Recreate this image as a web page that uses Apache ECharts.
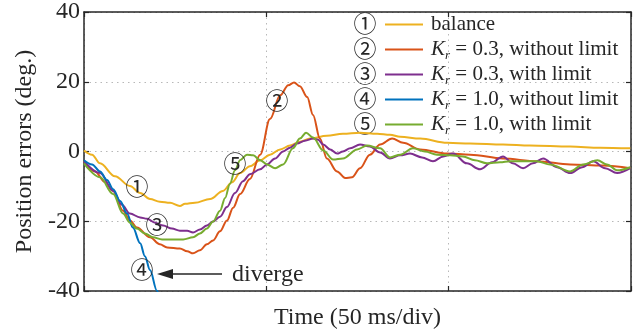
<!DOCTYPE html>
<html>
<head>
<meta charset="utf-8">
<script src="https://cdn.jsdelivr.net/npm/echarts@6/dist/echarts.min.js"></script>
<style>
html,body{margin:0;padding:0;background:#fff;}
#chart{width:638px;height:335px;}
</style>
</head>
<body>
<div id="chart"></div>
<script>
// ---- Data (time in ms, position error in degrees) ----
var seriesNames = ['balance', 'Kr = 0.3, without limit', 'Kr = 0.3, with limit', 'Kr = 1.0, without limit', 'Kr = 1.0, with limit'];
var yTicks = [-40, -20, 0, 20, 40];

var balance = [[0,0.3],[2.2,-0.9],[4.4,-3.4],[8.5,-7.1],[12.6,-9.9],[15.4,-11.9],[18.1,-13.6],[20.8,-14.4],[23.6,-14.7],[26.3,-15.6],[27.7,-15.0],[30.4,-14.7],[34.6,-13.6],[38.1,-11.3],[40.6,-8.8],[42.8,-6.2],[45.5,-4.2],[48.3,-2.5],[51.0,-0.9],[53.8,0.6],[56.5,1.7],[59.2,2.8],[62.0,3.7],[66.6,4.5],[71.0,5.1],[75.7,5.4],[80.4,5.1],[83.9,4.8],[86.7,4.2],[92.2,3.7],[99.6,2.5],[105.9,2.3],[114.9,2.0],[122.3,1.7],[133.3,1.4],[141.5,1.1],[149.8,0.9]];

var kr03NoLimit = [[0,-2.8],[3.0,-5.7],[5.8,-8.8],[8.0,-11.3],[10.7,-17.0],[12.6,-19.8],[14.5,-21.8],[18.1,-24.6],[20.8,-26.6],[22.8,-27.5],[26.3,-27.8],[28.3,-28.6],[29.9,-29.2],[31.8,-28.3],[33.7,-26.6],[35.4,-25.5],[37.3,-22.9],[39.2,-19.8],[40.9,-16.1],[42.8,-12.2],[45.5,-7.9],[48.3,-0.9],[51.0,9.3],[53.8,16.1],[56.0,19.0],[57.6,19.8],[59.2,18.7],[61.2,15.6],[62.8,10.5],[64.7,3.7],[66.6,-2.0],[69.4,-5.7],[71.6,-7.6],[73.5,-7.4],[75.7,-4.8],[78.4,-0.9],[81.2,2.0],[84.5,3.7],[87.5,2.5],[92.2,0.6],[99.6,-0.6],[105.9,-0.9],[114.9,-2.0],[124.2,-2.8],[133.3,-3.7],[142.3,-4.0],[149.8,-4.8]];

var kr03Limit = [[0,-2.8],[4.4,-6.2],[8.0,-11.3],[10.4,-15.3],[12.6,-17.8],[15.4,-18.9],[17.3,-19.3],[19.5,-20.4],[21.7,-21.2],[24.1,-22.1],[26.3,-22.7],[28.3,-22.7],[29.9,-23.2],[31.8,-22.4],[33.7,-21.2],[35.4,-20.1],[37.3,-18.7],[39.2,-15.9],[41.4,-11.9],[43.6,-8.5],[45.5,-6.5],[48.3,-5.1],[50.2,-3.7],[52.4,-2.0],[54.6,0],[56.5,1.1],[58.4,2.3],[60.6,3.1],[62.8,3.7],[64.2,3.4],[65.6,2.0],[67.5,0.6],[69.4,-0.6],[71.0,0],[73.0,0.9],[75.7,2.0],[78.4,1.4],[81.2,-0.3],[83.9,-2.0],[86.7,-1.1],[89.4,-0.6],[92.7,-1.7],[95.7,-2.8],[98.5,-1.4],[101.2,-0.6],[105.0,-3.4],[108.6,-5.1],[111.9,-3.1],[114.9,-1.4],[117.6,-3.4],[120.4,-4.8],[123.1,-3.4],[125.9,-2.0],[129.7,-4.5],[133.3,-6.2],[136.6,-4.5],[139.6,-2.8],[142.9,-4.8],[146.2,-6.2],[149.8,-4.8]];

var kr10NoLimit = [[0,-2.5],[2.2,-3.7],[4.4,-5.7],[6.3,-8.2],[8.0,-10.8],[9.9,-14.2],[11.8,-17.8],[13.4,-21.8],[15.4,-26.3],[16.7,-30.0],[18.1,-34.0],[20.0,-39.9],[20.8,-42.5]];

var kr10Limit = [[0,-3.4],[4.4,-7.4],[8.0,-12.2],[10.7,-17.8],[12.6,-20.4],[14.5,-22.1],[16.7,-23.5],[18.9,-24.6],[21.4,-25.2],[23.6,-25.2],[27.2,-25.2],[29.9,-24.6],[31.8,-23.5],[33.7,-22.1],[35.4,-20.1],[37.3,-17.0],[38.7,-13.3],[40.0,-9.3],[41.4,-5.4],[42.8,-2.5],[44.7,-0.9],[46.4,-1.1],[48.3,-2.5],[50.2,-3.7],[52.4,-4.8],[54.6,-3.7],[57.3,0.9],[59.2,3.7],[60.9,5.4],[62.8,4.0],[65.6,0.3],[68.3,-2.3],[71.0,-2.0],[74.9,0.6],[77.6,1.7],[81.2,0.9],[83.9,-1.7],[86.7,-0.9],[90.2,0.9],[93.5,0],[96.8,-0.9],[100.4,-1.1],[103.9,-1.4],[107.2,-2.5],[110.5,-3.4],[114.1,-3.1],[116.8,-2.8],[120.4,-2.8],[124.2,-2.8],[127.8,-3.7],[133.3,-5.7],[136.9,-3.7],[140.8,-2.5],[143.4,-3.7],[146.2,-5.4],[149.8,-4.5]];

var seriesData = [balance, kr03NoLimit, kr03Limit, kr10NoLimit, kr10Limit];
var colors = ['#EDB120', '#D95319', '#7E2F8E', '#0072BD', '#77AC30'];
var circled = ['①', '②', '③', '④', '⑤'];

var SERIF = 'Liberation Serif';
var CIRC = '"Noto Sans CJK JP", "DejaVu Sans", sans-serif';
var INK = '#262626';

var chart = echarts.init(document.getElementById('chart'), null, {renderer: 'canvas'});

var legendLabels = {};
legendLabels[seriesNames[0]] = '{g|}{t|balance}';
legendLabels[seriesNames[1]] = '{g|}{k|K}{r|r}{t| = 0.3, without limit}';
legendLabels[seriesNames[2]] = '{g|}{k|K}{r|r}{t| = 0.3, with limit}';
legendLabels[seriesNames[3]] = '{g|}{k|K}{r|r}{t| = 1.0, without limit}';
legendLabels[seriesNames[4]] = '{g|}{k|K}{r|r}{t| = 1.0, with limit}';

var series = seriesData.map(function (d, i) {
  return {
    name: seriesNames[i],
    type: 'line',
    data: d,
    symbol: 'none',
    smooth: 0.35,
    smoothMonotone: 'x',
    clip: true,
    lineStyle: {width: 2, color: colors[i]},
    itemStyle: {color: colors[i]},
    z: 2 + i,
    animation: false
  };
});

var graphics = [];
// legend circled numbers
for (var i = 0; i < 5; i++) {
  graphics.push({type: 'text', x: 365, y: 23 + 25 * i, style: {text: circled[i], font: '23px ' + CIRC, fill: INK, textAlign: 'center', textVerticalAlign: 'middle'}});
}
// in-plot annotations
var ann = [[137, 186, 0], [277, 100, 1], [157, 224, 2], [142, 269, 3], [235, 163, 4]];
ann.forEach(function (a) {
  graphics.push({type: 'text', x: a[0], y: a[1], style: {text: circled[a[2]], font: '23px ' + CIRC, fill: INK, textAlign: 'center', textVerticalAlign: 'middle'}, z: 100});
});
// arrow + diverge
graphics.push({type: 'line', shape: {x1: 222, y1: 274, x2: 168, y2: 274}, style: {stroke: INK, lineWidth: 1.5}, z: 100});
graphics.push({type: 'polygon', shape: {points: [[157, 274], [173, 269], [173, 279]]}, style: {fill: INK}, z: 100});
graphics.push({type: 'text', x: 232, y: 275, style: {text: 'diverge', font: '24px "Liberation Serif"', fill: INK, textVerticalAlign: 'middle'}, z: 100});

var option = {
  backgroundColor: '#fff',
  animation: false,
  color: colors,
  grid: {left: 84, right: 7, top: 8.5, bottom: 44, containLabel: false},
  legend: {
    orient: 'vertical',
    left: 380,
    top: 7,
    icon: 'rect',
    itemWidth: 38,
    itemHeight: 2,
    itemGap: 0,
    data: seriesNames,
    formatter: function (n) { return legendLabels[n]; },
    textStyle: {
      fontFamily: SERIF, fontSize: 21, color: INK, lineHeight: 25,
      rich: {
        g: {width: 3, lineHeight: 25},
        t: {fontFamily: SERIF, fontSize: 21, color: INK, lineHeight: 25},
        k: {fontFamily: SERIF, fontSize: 21, fontStyle: 'italic', color: INK, lineHeight: 25},
        r: {fontFamily: SERIF, fontSize: 13, fontStyle: 'italic', color: INK, lineHeight: 14, verticalAlign: 'bottom'}
      }
    }
  },
  xAxis: [{
    type: 'value', min: 0, max: 150, interval: 50,
    name: 'Time (50 ms/div)', nameLocation: 'middle', nameGap: 15,
    nameTextStyle: {fontFamily: SERIF, fontSize: 24, color: INK, fontWeight: 'normal'},
    axisLine: {show: true, onZero: false, lineStyle: {color: INK, width: 1.5}},
    axisTick: {show: true, inside: true, length: 5, lineStyle: {color: INK, width: 1.2}},
    axisLabel: {show: false},
    splitLine: {show: true, lineStyle: {color: '#b8b8b8', type: [1.5, 4], width: 1}}
  }, {
    type: 'value', min: 0, max: 150, interval: 50, position: 'top',
    axisLine: {show: true, onZero: false, lineStyle: {color: INK, width: 1.5}},
    axisTick: {show: true, inside: true, length: 5, lineStyle: {color: INK, width: 1.2}},
    axisLabel: {show: false},
    splitLine: {show: false}
  }],
  yAxis: [{
    type: 'value', min: -40, max: 40, interval: 20,
    name: 'Position errors (deg.)', nameLocation: 'middle', nameGap: 39,
    nameTextStyle: {fontFamily: SERIF, fontSize: 24, color: INK, fontWeight: 'normal'},
    axisLine: {show: true, onZero: false, lineStyle: {color: INK, width: 1.5}},
    axisTick: {show: true, inside: true, length: 5, lineStyle: {color: INK, width: 1.2}},
    axisLabel: {show: true, margin: 4, fontFamily: SERIF, fontSize: 24, color: INK, fontWeight: 'normal',
      formatter: function (v) { return yTicks.indexOf(v) >= 0 ? String(v) : ''; }},
    splitLine: {show: true, lineStyle: {color: '#b8b8b8', type: [1.5, 4], width: 1}}
  }, {
    type: 'value', min: -40, max: 40, interval: 20, position: 'right',
    axisLine: {show: true, onZero: false, lineStyle: {color: INK, width: 1.5}},
    axisTick: {show: true, inside: true, length: 5, lineStyle: {color: INK, width: 1.2}},
    axisLabel: {show: false},
    splitLine: {show: false}
  }],
  series: series,
  graphic: graphics
};
chart.setOption(option);
</script>
</body>
</html>
